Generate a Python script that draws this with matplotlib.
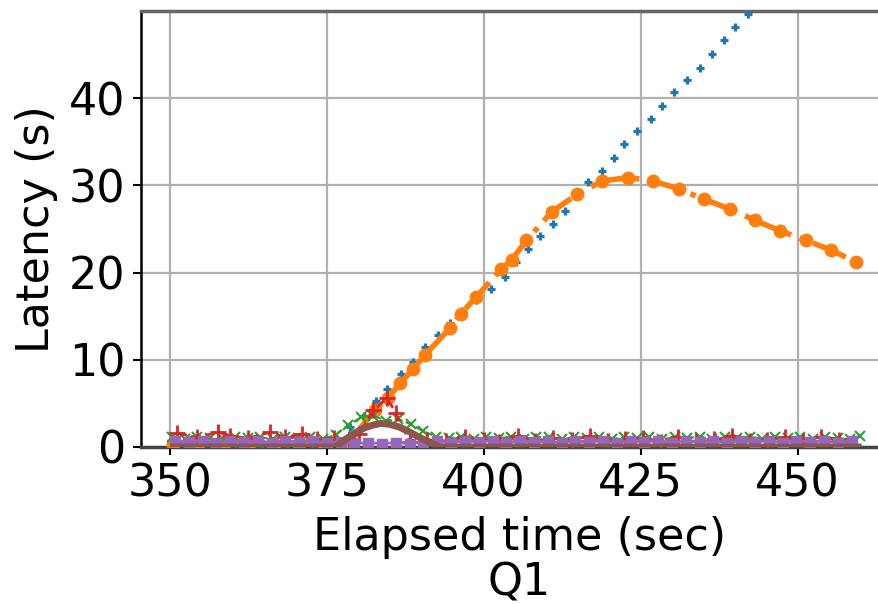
import matplotlib
matplotlib.use("Agg")
import matplotlib.pyplot as plt

# series (elapsed time in sec, latency in s)
blue_t = [350.6, 352.6, 354.6, 356.6, 358.6, 360.6, 362.6, 364.6, 366.7, 368.7,
          370.7, 372.7, 374.7, 376.7, 378.7, 380.9, 382.9, 384.6, 386.8, 388.8,
          390.7, 392.7, 394.7, 396.6, 398.8, 401.1, 403.4, 405.1, 407.0, 409.0,
          411.0, 412.9, 414.8, 416.6, 418.8, 420.8, 422.4, 424.4, 426.6, 428.4,
          430.3, 432.4, 434.4, 436.3, 438.2, 440.1, 442.1, 444.1, 446.0, 448.0]
blue_lat = [0.3, 0.4, 0.3, 0.3, 0.4, 0.3, 0.3, 0.4, 0.3, 0.3,
            0.4, 0.3, 0.4, 0.9, 2.3, 3.6, 5.3, 6.7, 8.4, 9.7,
            11.5, 12.8, 14.2, 15.6, 16.9, 18.1, 19.5, 21.2, 22.7, 24.2,
            25.6, 27.1, 28.8, 30.4, 31.7, 33.1, 34.7, 36.2, 37.6, 39.1,
            40.7, 42.1, 43.5, 45.1, 46.7, 48.2, 49.7, 51.2, 52.7, 54.2]

orange_t = [350.5, 354.5, 358.6, 362.6, 366.6, 370.6, 374.6, 378.6, 382.6, 384.7,
            386.7, 388.8, 390.7, 394.7, 396.4, 398.8, 402.8, 404.5, 406.8, 410.9,
            414.9, 418.9, 423.0, 427.0, 431.1, 435.1, 439.2, 443.2, 447.2, 451.3,
            455.3, 459.3]
orange_lat = [0.4, 0.3, 0.4, 0.4, 0.3, 0.4, 0.3, 0.6, 4.2, 5.6,
              7.3, 9.0, 10.6, 13.7, 15.3, 17.2, 20.4, 21.5, 23.7, 27.0,
              29.0, 30.5, 30.9, 30.5, 29.6, 28.4, 27.3, 26.0, 24.8, 23.7,
              22.6, 21.2]

green_t = [350.4, 352.4, 354.4, 356.4, 358.4, 360.4, 362.4, 364.4, 366.4, 368.4,
           370.4, 372.4, 374.4, 376.4, 378.4, 380.4, 382.4, 384.4, 386.4, 388.4,
           390.4, 392.4, 394.4, 396.4, 398.4, 400.4, 402.4, 404.4, 406.4, 408.4,
           410.4, 412.4, 414.4, 416.4, 418.4, 420.4, 422.4, 424.4, 426.4, 428.4,
           430.4, 432.4, 434.4, 436.4, 438.4, 440.4, 442.4, 444.4, 446.4, 448.4,
           450.4, 452.4, 454.4, 456.4, 458.4, 460.0]
green_lat = [1.1, 0.9, 1.2, 1.0, 0.9, 1.2, 1.0, 1.1, 0.9, 1.2,
             1.0, 1.1, 0.9, 1.4, 2.5, 3.4, 3.6, 3.0, 3.2, 2.6,
             1.8, 1.2, 1.0, 1.2, 0.9, 1.1, 1.0, 1.2, 0.9, 1.1,
             1.2, 0.9, 1.1, 1.0, 1.2, 0.9, 1.1, 1.0, 1.2, 0.9,
             1.1, 1.0, 1.2, 0.9, 1.1, 1.0, 1.2, 0.9, 1.1, 1.0,
             1.2, 0.9, 1.1, 1.0, 0.9, 1.3]

red_t = [351.1, 354.3, 357.7, 359.6, 362.4, 366.0, 368.3, 371.0, 373.4, 376.2,
         378.6, 380.2, 382.4, 384.6, 386.0, 388.2, 391.0, 394.0, 397.0, 400.0,
         402.5, 405.5, 408.2, 411.0, 414.0, 417.0, 419.8, 422.5, 425.4, 428.3,
         431.0, 433.8, 436.7, 439.5, 442.4, 445.2, 448.0, 450.8, 453.8, 456.6]
red_lat = [1.6, 1.1, 1.7, 1.3, 1.0, 1.7, 1.1, 1.5, 0.9, 1.0,
           0.9, 1.5, 4.2, 5.6, 3.9, 0.6, 0.8, 0.7, 1.2, 0.8,
           0.6, 1.3, 0.7, 1.0, 0.8, 1.3, 0.7, 0.9, 1.0, 0.6,
           1.2, 0.7, 0.9, 1.3, 0.7, 0.8, 1.1, 0.7, 1.2, 0.8]

purple_t = [350.8, 353.0, 355.2, 357.4, 359.6, 361.8, 364.0, 366.2, 368.4, 370.6,
            372.8, 375.0, 377.2, 379.4, 381.6, 383.8, 386.0, 388.2, 390.4, 392.6,
            394.8, 397.0, 399.2, 401.4, 403.6, 405.8, 408.0, 410.2, 412.4, 414.6,
            416.8, 419.0, 421.2, 423.4, 425.6, 427.8, 430.0, 432.2, 434.4, 436.6,
            438.8, 441.0, 443.2, 445.4, 447.6, 449.8, 452.0, 454.2, 456.4, 458.6]
purple_lat = [0.7, 0.6, 0.7, 0.5, 0.7, 0.6, 0.7, 0.5, 0.7, 0.6,
              0.7, 0.5, 0.6, 0.4, 0.5, 0.4, 0.5, 0.4, 0.6, 0.7,
              0.5, 0.7, 0.6, 0.7, 0.5, 0.7, 0.6, 0.7, 0.5, 0.7,
              0.6, 0.7, 0.5, 0.7, 0.6, 0.7, 0.5, 0.7, 0.6, 0.7,
              0.5, 0.7, 0.6, 0.7, 0.5, 0.7, 0.6, 0.7, 0.5, 0.7]

brown_t = [350.0, 360.0, 370.0, 376.4, 378.0, 379.5, 381.0, 382.3, 383.6, 385.0,
           386.5, 388.0, 389.5, 391.5, 393.0, 400.0, 410.0, 420.0, 430.0, 440.0,
           450.0, 460.2]
brown_lat = [0.0, 0.0, 0.0, 0.0, 0.9, 1.6, 2.2, 2.5, 2.7, 2.6,
             2.3, 1.8, 1.2, 0.5, 0.0, 0.0, 0.0, 0.0, 0.0, 0.0,
             0.0, 0.0]

x_ticks = [350, 375, 400, 425, 450]
y_ticks = [0, 10, 20, 30, 40]

plt.rcParams["font.size"] = 32

fig = plt.figure(figsize=(8.79, 6.04), dpi=100)
ax = fig.add_axes([141 / 879, 157 / 604, 757 / 879, 436 / 604])

ax.plot(blue_t, blue_lat, color="C0", linestyle="None", marker="+",
        markersize=5.5, markeredgewidth=2.3, zorder=3)
ax.plot(orange_t, orange_lat, color="C1", linestyle="-.", linewidth=4,
        marker="o", markersize=9, zorder=3)
ax.plot(green_t, green_lat, color="C2", linestyle="--", linewidth=1.5,
        marker="x", markersize=7, markeredgewidth=1.5, zorder=3)
ax.plot(red_t, red_lat, color="C3", linestyle="--", linewidth=2,
        marker="+", markersize=12, markeredgewidth=2, zorder=3)
ax.plot(purple_t, purple_lat, color="C4", linestyle="-", linewidth=2,
        marker="s", markersize=7, zorder=3)
ax.plot(brown_t, brown_lat, color="C5", linestyle="-", linewidth=5,
        solid_capstyle="butt", zorder=3)

ax.set_xlim(345.4, 466)
ax.set_ylim(0, 50)
ax.set_xticks(x_ticks)
ax.set_yticks(y_ticks)
ax.grid(True, color="#b0b0b0", linewidth=1.6)
ax.set_axisbelow(True)
ax.tick_params(length=6, width=1.5, pad=5)

ax.spines["left"].set_color("black")
ax.spines["left"].set_linewidth(1.8)
ax.spines["top"].set_color("#666666")
ax.spines["top"].set_linewidth(2.5)
ax.spines["bottom"].set_color("#444444")
ax.spines["bottom"].set_linewidth(2.5)

ax.set_ylabel("Latency (s)", labelpad=8)
ax.set_xlabel("Elapsed time (sec)\nQ1", labelpad=8, linespacing=1.05)

fig.savefig("out.png", dpi=100)
